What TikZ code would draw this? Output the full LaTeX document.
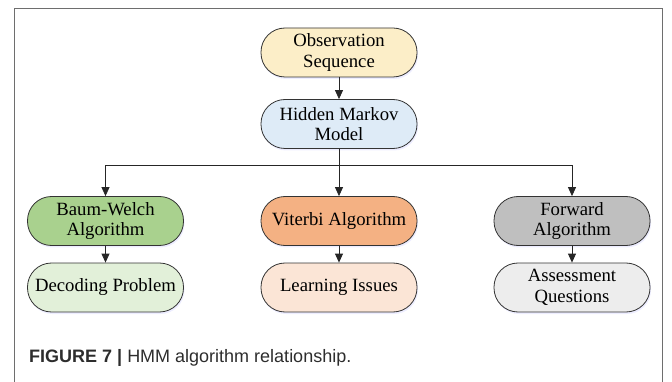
\documentclass[tikz,border=0pt]{standalone}
\usepackage{fontspec}
\setmainfont{Liberation Serif}
\newfontfamily\capfont{Liberation Sans}
\usetikzlibrary{arrows.meta, positioning, shadows}
\definecolor{obsyellow}{RGB}{252, 238, 200}
\definecolor{hmmblue}{RGB}{222, 235, 247}
\definecolor{bwgreen}{RGB}{169, 209, 142}
\definecolor{vitorange}{RGB}{244, 177, 131}
\definecolor{fwdgray}{RGB}{191, 191, 191}
\definecolor{decgreen}{RGB}{226, 240, 217}
\definecolor{learnpeach}{RGB}{251, 229, 214}
\definecolor{assessgray}{RGB}{237, 237, 237}
\definecolor{framegray}{RGB}{110, 110, 110}
\definecolor{captext}{RGB}{45, 45, 45}

\begin{document}
\begin{tikzpicture}[x=1pt, y=-1pt,
    stadium/.style={draw=black!80, line width=0.8pt, rectangle, rounded corners=24pt,
        minimum width=156pt, minimum height=49pt, inner sep=2pt, align=center,
        font=\fontsize{18.7}{20.5}\selectfont,
        drop shadow={shadow xshift=1pt, shadow yshift=-2pt, fill=blue!40, opacity=0.18}},
    arr/.style={-{Triangle[length=9pt, width=8pt]}, line width=0.8pt, black!85}]
        \useasboundingbox (0,0) rectangle (672,382);
        % Frame
        \draw[framegray, line width=1pt] (14,382) -- (14,9) -- (662,9) -- (662,382);

        % Nodes
        \node[stadium, fill=obsyellow] (obs) at (339,52.5) {Observation\\Sequence};
        \node[stadium, fill=hmmblue] (hmm) at (339,124) {Hidden Markov\\Model};

        \node[stadium, fill=bwgreen] (bw) at (105.5,221) {Baum-Welch\\Algorithm};
        \node[stadium, fill=vitorange] (vit) at (339,221) {Viterbi Algorithm};
        \node[stadium, fill=fwdgray] (fwd) at (572,221) {Forward\\Algorithm};

        \node[stadium, fill=decgreen] (dec) at (105.5,287.5) {Decoding Problem};
        \node[stadium, fill=learnpeach] (learn) at (339,287.5) {Learning Issues};
        \node[stadium, fill=assessgray] (assess) at (572,287.5) {Assessment\\Questions};

        % Arrows
        \coordinate (bus) at (339,165);
        \draw[arr] (obs) -- (hmm);
        \draw[arr] (hmm) -- (vit);
        \draw[arr] (bus) -| (bw);
        \draw[arr] (bus) -| (fwd);
        \draw[arr] (bw) -- (dec);
        \draw[arr] (vit) -- (learn);
        \draw[arr] (fwd) -- (assess);

        % Caption
        \node[anchor=base west, inner sep=0pt, text=captext,
            font=\capfont\fontsize{18}{21}\selectfont] (cap) at (29,362)
            {\textbf{FIGURE 7 |} HMM algorithm relationship.};
    \end{tikzpicture}
\end{document}
